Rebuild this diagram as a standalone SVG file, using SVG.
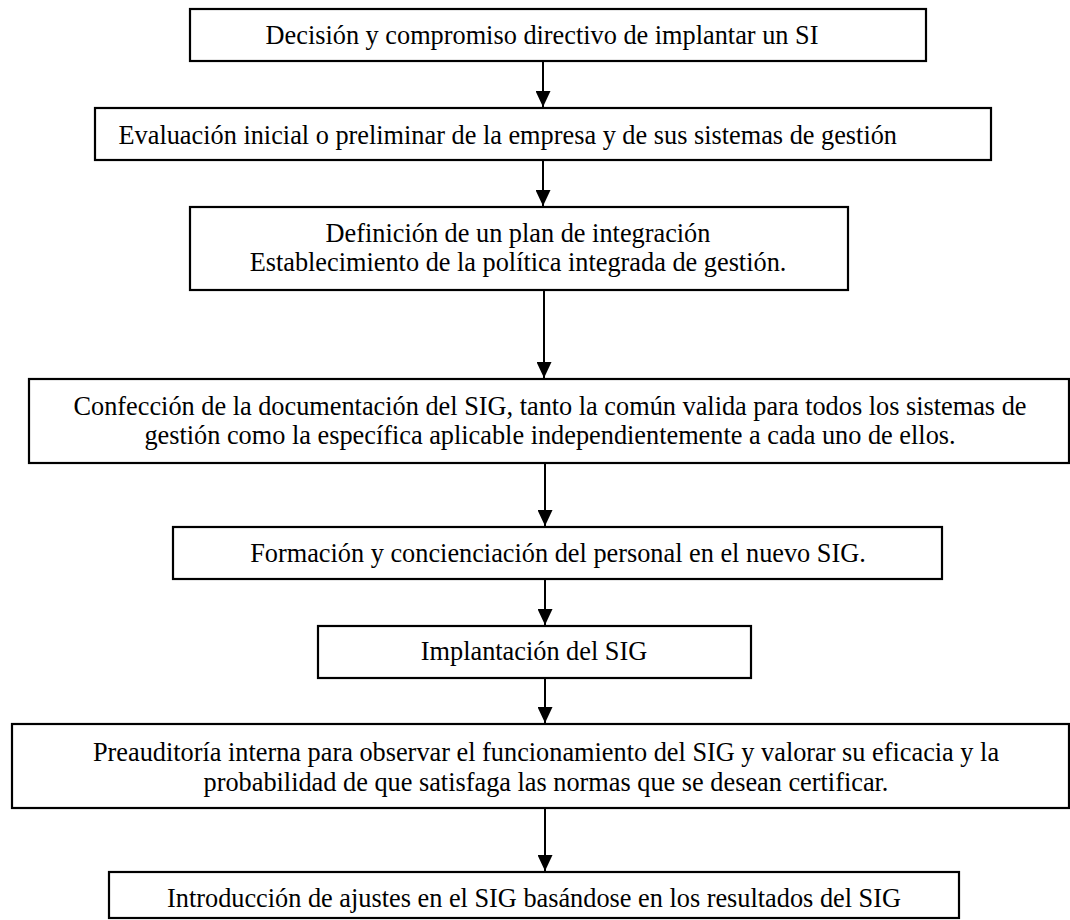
<svg xmlns="http://www.w3.org/2000/svg" width="1070" height="920" viewBox="0 0 1070 920">
<defs>
<style>
.box{fill:#fff;stroke:#000;stroke-width:2.2}
.t{font-family:"Liberation Serif","Times New Roman",serif;font-size:26.3px;fill:#000}
.c{text-anchor:middle}
.edge{stroke:#000;stroke-width:2;fill:none}
</style>
<marker id="ah" markerWidth="16" markerHeight="15" refX="16" refY="7.5" orient="auto" markerUnits="userSpaceOnUse" viewBox="0 0 16 15">
<path d="M0,0 L16,7.5 L0,15 Z" fill="#000"/>
</marker>
</defs>
<rect width="1070" height="920" fill="#fff"/>
<g id="connectors">
<line class="edge" x1="543" y1="61" x2="543" y2="107" marker-end="url(#ah)"/>
<line class="edge" x1="543" y1="160" x2="543" y2="206" marker-end="url(#ah)"/>
<line class="edge" x1="544" y1="290" x2="544" y2="378" marker-end="url(#ah)"/>
<line class="edge" x1="545" y1="463" x2="545" y2="526" marker-end="url(#ah)"/>
<line class="edge" x1="545" y1="579" x2="545" y2="625" marker-end="url(#ah)"/>
<line class="edge" x1="545" y1="678" x2="545" y2="723" marker-end="url(#ah)"/>
<line class="edge" x1="545" y1="808" x2="545" y2="871" marker-end="url(#ah)"/>
</g>
<g id="n1">
<rect class="box" x="190" y="9" width="736" height="52"/>
<text class="t c" x="542" y="44">Decisión y compromiso directivo de implantar un SI</text>
</g>
<g id="n2">
<rect class="box" x="95" y="108" width="896" height="52"/>
<text class="t" x="897" y="144" text-anchor="end">Evaluación inicial o preliminar de la empresa y de sus sistemas de gestión</text>
</g>
<g id="n3">
<rect class="box" x="190" y="207" width="658" height="83"/>
<text class="t c" x="518" y="242">Definición de un plan de integración</text>
<text class="t c" x="518" y="271">Establecimiento de la política integrada de gestión.</text>
</g>
<g id="n4">
<rect class="box" x="29" y="379" width="1040" height="84"/>
<text class="t c" x="550" y="415">Confección de la documentación del SIG, tanto la común valida para todos los sistemas de</text>
<text class="t c" x="550" y="444">gestión como la específica aplicable independientemente a cada uno de ellos.</text>
</g>
<g id="n5">
<rect class="box" x="173" y="527" width="769" height="52"/>
<text class="t c" x="558" y="562">Formación y concienciación del personal en el nuevo SIG.</text>
</g>
<g id="n6">
<rect class="box" x="318" y="626" width="433" height="52"/>
<text class="t c" x="534" y="660">Implantación del SIG</text>
</g>
<g id="n7">
<rect class="box" x="12" y="724" width="1057" height="84"/>
<text class="t c" x="546" y="761">Preauditoría interna para observar el funcionamiento del SIG y valorar su eficacia y la</text>
<text class="t c" x="546" y="791">probabilidad de que satisfaga las normas que se desean certificar.</text>
</g>
<g id="n8">
<rect class="box" x="109" y="872" width="850" height="46"/>
<text class="t c" x="534" y="907">Introducción de ajustes en el SIG basándose en los resultados del SIG</text>
</g>
</svg>
